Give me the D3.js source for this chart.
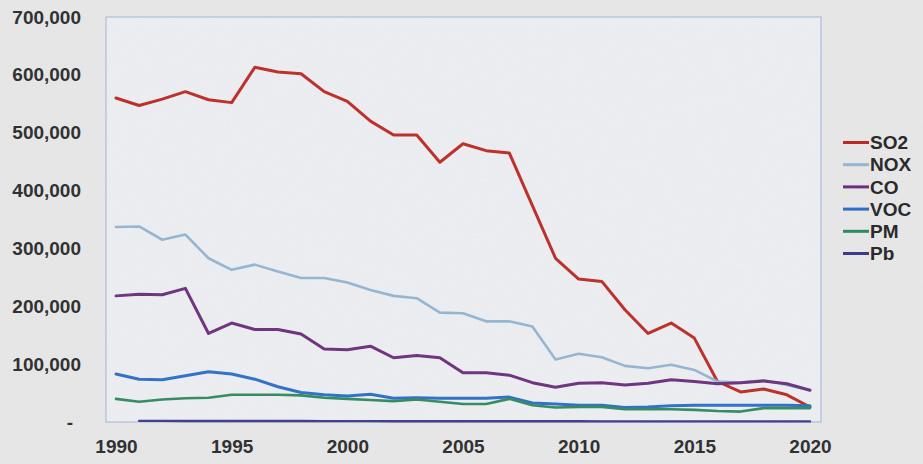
<!DOCTYPE html>
<html>
<head>
<meta charset="utf-8">
<script src="https://cdn.jsdelivr.net/npm/d3@7/dist/d3.min.js"></script>
<style>
  html, body { margin: 0; padding: 0; background: #e8e8e9; }
  svg { display: block; }
</style>
</head>
<body>
<svg id="chart" width="923" height="464"></svg>
<script>
const years = d3.range(1990, 2021);
const SO2 = [560000,547000,558000,571000,557000,552000,613000,605000,602000,571000,554000,520000,496000,496000,449000,481000,469000,465000,374000,283000,247000,243000,194000,153000,171000,145000,70000,52000,57000,47000,26000];
const NOX = [337000,338000,315000,324000,283000,263000,272000,260000,249000,249000,241000,228000,218000,214000,189000,188000,174000,174000,165000,108000,118000,112000,97000,93000,99000,90000,70000,68000,72000,64000,55000];
const CO  = [218000,221000,220000,231000,153000,171000,160000,160000,152000,126000,125000,131000,111000,115000,111000,85000,85000,81000,68000,60000,67000,68000,64000,67000,73000,70000,66000,68000,71000,66000,55000];
const VOC = [83000,74000,73000,80000,87000,83000,74000,61000,51000,47000,45000,48000,41000,42000,41000,41000,41000,43000,33000,31000,29000,29000,25000,26000,28000,29000,29000,29000,29000,29000,28000];
const PM  = [40000,35000,39000,41000,42000,47000,47000,47000,46000,42000,40000,38000,36000,39000,35000,31000,31000,40000,29000,25000,26000,26000,22000,22000,22000,21000,19000,18000,24000,24000,24000];
const Pb  = [null,2000,2000,1800,1800,1700,1700,1600,1600,1500,1500,1500,1400,1400,1400,1300,1300,1300,1200,1200,1200,1100,1100,1100,1000,1000,1000,1000,1000,1000,1000];
const seriesNames = ["SO2","NOX","CO","VOC","PM","Pb"];
const seriesValues = [SO2, NOX, CO, VOC, PM, Pb];
const seriesColors = ["#bd2a24","#93b6d3","#6b2f7c","#2a6fc7","#2f8a5c","#3c3a8c"];
const seriesWidths = [3, 2.6, 3, 3, 2.6, 2.4];
const yTicks = [0,100000,200000,300000,400000,500000,600000,700000];
const xTicks = [1990,1995,2000,2005,2010,2015,2020];

const svg = d3.select("#chart");
const W = 923, H = 464;

const defs = svg.append("defs");
const f = defs.append("filter").attr("id","noise").attr("x",0).attr("y",0).attr("width","100%").attr("height","100%");
f.append("feTurbulence").attr("type","fractalNoise").attr("baseFrequency",0.9).attr("numOctaves",2).attr("seed",3).attr("result","t");
f.append("feColorMatrix").attr("in","t").attr("type","matrix")
  .attr("values","0 0 0 0 0.5  0 0 0 0 0.5  0 0 0 0 0.52  0 0 0 0.10 0");

svg.append("rect").attr("width",W).attr("height",H).attr("fill","#e8e8e9");

const x = d3.scaleLinear().domain([1990,2020]).range([116,810]);
const y = d3.scaleLinear().domain([0,700000]).range([422,17]);

const frameLeft = 106, frameRight = 821;
svg.append("rect")
  .attr("x",frameLeft).attr("y",y(700000))
  .attr("width",frameRight-frameLeft).attr("height",y(0)-y(700000))
  .attr("fill","#eeeff2").attr("stroke","#a8bfdb").attr("stroke-width",1.2);

const font = "'Liberation Sans', Arial, sans-serif";
const fs = "19px";

// Y axis
const yAxis = d3.axisLeft(y).tickValues(yTicks).tickSize(0).tickPadding(0)
  .tickFormat(d => d === 0 ? "-" : d3.format(",")(d));
const yg = svg.append("g").attr("transform","translate(81,0)").call(yAxis);
yg.select(".domain").remove();
yg.selectAll("text").attr("font-family",font).attr("font-weight","bold").attr("font-size",fs).attr("fill","#2a2a2a")
  .attr("dx", d => d === 0 ? -8 : 0);

// X axis
const xAxis = d3.axisBottom(x).tickValues(xTicks).tickSize(0).tickPadding(0).tickFormat(d3.format("d"));
const xg = svg.append("g").attr("transform","translate(0,439)").call(xAxis);
xg.select(".domain").remove();
xg.selectAll("text").attr("font-family",font).attr("font-weight","bold").attr("font-size",fs).attr("fill","#2a2a2a");

// Lines (series order, later series drawn on top)
const line = d3.line().defined(d => d.v !== null).x(d => x(d.yr)).y(d => y(d.v));
seriesValues.forEach((vals, i) => {
  const data = years.map((yr, k) => ({yr, v: vals[k]}));
  svg.append("path").datum(data)
    .attr("d", line).attr("fill","none")
    .attr("stroke", seriesColors[i]).attr("stroke-width", seriesWidths[i])
    .attr("stroke-linejoin","round").attr("stroke-linecap","round");
});

svg.append("rect").attr("width",W).attr("height",H).attr("filter","url(#noise)").attr("fill","none").style("pointer-events","none");

// Legend
const lg = svg.append("g").attr("transform","translate(843,142.5)");
seriesNames.forEach((name, i) => {
  const row = lg.append("g").attr("transform", `translate(0,${i*22.2})`);
  row.append("line").attr("x1",0).attr("x2",26).attr("y1",0).attr("y2",0)
    .attr("stroke", seriesColors[i]).attr("stroke-width",3);
  row.append("text").attr("x",27).attr("y",0).attr("dy","0.35em")
    .attr("font-family",font).attr("font-weight","bold").attr("font-size",fs).attr("fill","#2a2a2a")
    .text(name);
});
</script>
</body>
</html>
